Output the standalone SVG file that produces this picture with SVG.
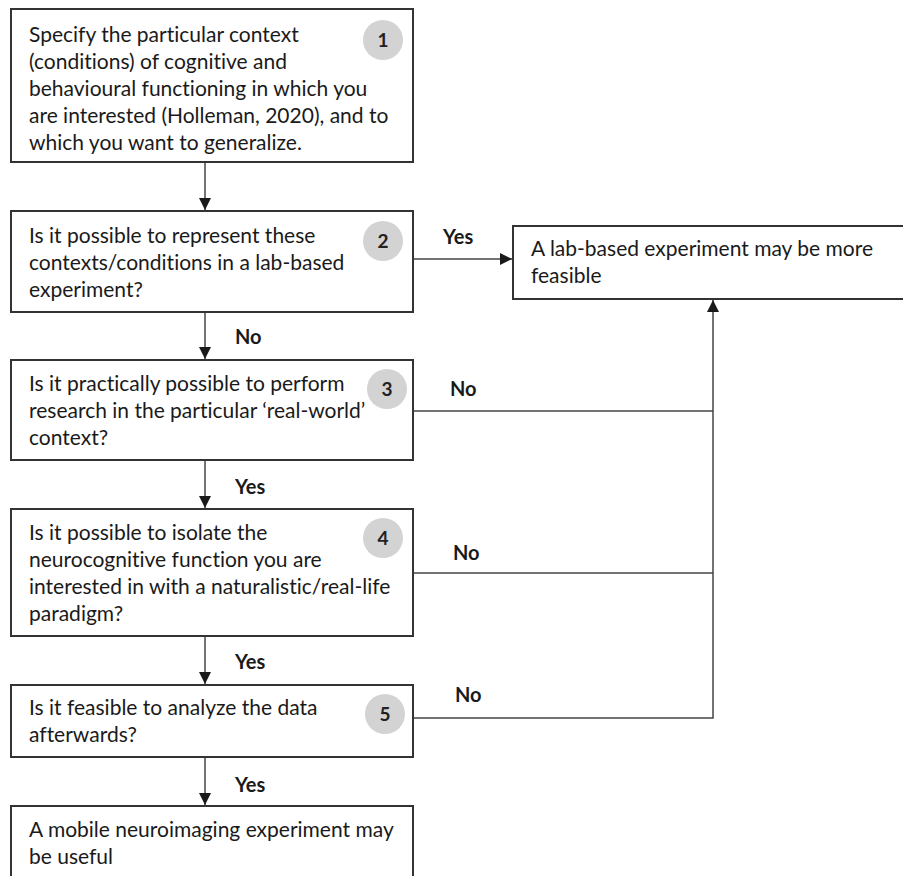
<svg xmlns="http://www.w3.org/2000/svg" width="903" height="876" viewBox="0 0 903 876">
<defs>
<style>
.box{fill:#fff;stroke:#333;stroke-width:2}
.t{font-family:Lato,"Open Sans",sans-serif;font-size:21px;fill:#1a1a1a;font-variant-ligatures:none}
.lbl{font-family:Lato,"Open Sans",sans-serif;font-size:20px;font-weight:bold;fill:#1a1a1a}
.c{fill:#d3d3d3}
.n{font-family:Lato,"Open Sans",sans-serif;font-size:19px;font-weight:bold;fill:#222;text-anchor:middle}
.ln{fill:none;stroke:#444;stroke-width:1.5}
</style>
<marker id="ah" viewBox="0 0 12 12" refX="12" refY="6" markerWidth="12" markerHeight="12" markerUnits="userSpaceOnUse" orient="auto">
<path d="M0,0 L12,6 L0,12 Z" fill="#1a1a1a"/>
</marker>
</defs>
<rect width="903" height="876" fill="#fff"/>
<g id="connectors">
<path class="ln" d="M205,163 V210" marker-end="url(#ah)"/>
<path class="ln" d="M205,313 V359" marker-end="url(#ah)"/>
<path class="ln" d="M205,461 V508" marker-end="url(#ah)"/>
<path class="ln" d="M205,637 V684" marker-end="url(#ah)"/>
<path class="ln" d="M205,758 V805" marker-end="url(#ah)"/>
<path class="ln" d="M414,259 H512" marker-end="url(#ah)"/>
<path class="ln" d="M414,411 H713"/>
<path class="ln" d="M414,573 H713"/>
<path class="ln" d="M414,718 H713 V300" marker-end="url(#ah)"/>
<text class="lbl" x="443" y="244">Yes</text>
<text class="lbl" x="235" y="344">No</text>
<text class="lbl" x="450" y="396">No</text>
<text class="lbl" x="235" y="494">Yes</text>
<text class="lbl" x="453" y="560">No</text>
<text class="lbl" x="235" y="669">Yes</text>
<text class="lbl" x="455" y="702">No</text>
<text class="lbl" x="235" y="792">Yes</text>
</g>
<g id="node1">
<rect class="box" x="11" y="9" width="402" height="153"/>
<circle class="c" cx="383" cy="40" r="20"/>
<text class="n" x="383" y="47">1</text>
<text class="t"><tspan x="29" y="42">Specify the particular context</tspan><tspan x="29" y="69">(conditions) of cognitive and</tspan><tspan x="29" y="96">behavioural functioning in which you</tspan><tspan x="29" y="123">are interested (Holleman, 2020), and to</tspan><tspan x="29" y="150">which you want to generalize.</tspan></text>
</g>
<g id="node2">
<rect class="box" x="11" y="211" width="402" height="101"/>
<circle class="c" cx="383" cy="241" r="20"/>
<text class="n" x="383" y="248">2</text>
<text class="t"><tspan x="29" y="243">Is it possible to represent these</tspan><tspan x="29" y="270">contexts/conditions in a lab-based</tspan><tspan x="29" y="297">experiment?</tspan></text>
</g>
<g id="node3">
<rect class="box" x="11" y="360" width="402" height="100"/>
<circle class="c" cx="387" cy="389" r="20"/>
<text class="n" x="387" y="396">3</text>
<text class="t"><tspan x="29" y="391">Is it practically possible to perform</tspan><tspan x="29" y="418">research in the particular ‘real-world’</tspan><tspan x="29" y="445">context?</tspan></text>
</g>
<g id="node4">
<rect class="box" x="11" y="509" width="402" height="127"/>
<circle class="c" cx="383" cy="538" r="20"/>
<text class="n" x="383" y="545">4</text>
<text class="t"><tspan x="29" y="540">Is it possible to isolate the</tspan><tspan x="29" y="567">neurocognitive function you are</tspan><tspan x="29" y="594">interested in with a naturalistic/real-life</tspan><tspan x="29" y="621">paradigm?</tspan></text>
</g>
<g id="node5">
<rect class="box" x="11" y="685" width="402" height="72"/>
<circle class="c" cx="385" cy="714" r="20"/>
<text class="n" x="385" y="721">5</text>
<text class="t"><tspan x="29" y="715">Is it feasible to analyze the data</tspan><tspan x="29" y="742">afterwards?</tspan></text>
</g>
<g id="node6">
<rect class="box" x="11" y="806" width="402" height="80"/>
<text class="t"><tspan x="29" y="837">A mobile neuroimaging experiment may</tspan><tspan x="29" y="864">be useful</tspan></text>
</g>
<g id="result">
<rect class="box" x="513" y="226" width="400" height="73"/>
<text class="t"><tspan x="531" y="256">A lab-based experiment may be more</tspan><tspan x="531" y="283">feasible</tspan></text>
</g>
</svg>
